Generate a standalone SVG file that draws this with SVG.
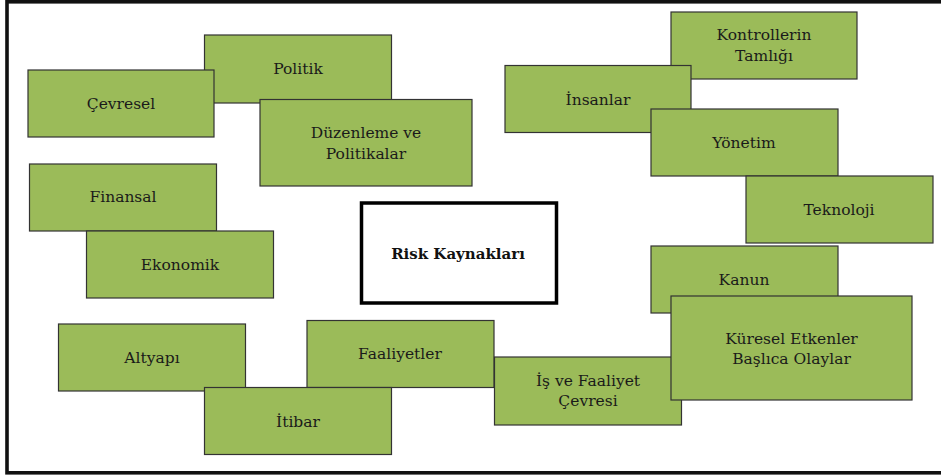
<svg xmlns="http://www.w3.org/2000/svg" width="941" height="475" viewBox="0 0 941 475">
<style>
.b{fill:#9BBB59;stroke:#333;stroke-width:1.2}
.t{font-family:"DejaVu Serif","Liberation Serif",serif;font-size:15.5px;fill:#1a1a1a;text-anchor:middle}
.r{font-family:"DejaVu Serif","Liberation Serif",serif;font-size:15px;font-weight:bold;fill:#111;text-anchor:middle}
</style>
<rect x="0" y="0" width="941" height="475" fill="#fff"/>
<rect id="frame" x="7" y="1.8" width="945" height="471" fill="none" stroke="#111" stroke-width="3.6"/>
<g id="connectors"></g>
<g id="politik"><rect class="b" x="204.5" y="35" width="187" height="68"/><text class="t" x="298" y="74">Politik</text></g>
<g id="cevresel"><rect class="b" x="28" y="70" width="186" height="67"/><text class="t" x="121" y="108.5">Çevresel</text></g>
<g id="duzenleme"><rect class="b" x="260" y="99.5" width="212" height="86.5"/><text class="t" x="366" y="138">Düzenleme ve</text><text class="t" x="366" y="158.5">Politikalar</text></g>
<g id="finansal"><rect class="b" x="29.5" y="164" width="187" height="67"/><text class="t" x="123" y="202">Finansal</text></g>
<g id="ekonomik"><rect class="b" x="86.5" y="231" width="187" height="67"/><text class="t" x="180" y="270">Ekonomik</text></g>
<g id="risk"><rect x="361.5" y="203" width="195" height="100" fill="#fff" stroke="#000" stroke-width="3.5"/><text class="r" x="458" y="258.5">Risk Kaynakları</text></g>
<g id="kontrollerin"><rect class="b" x="671" y="12" width="186" height="67"/><text class="t" x="764" y="40">Kontrollerin</text><text class="t" x="764" y="61">Tamlığı</text></g>
<g id="insanlar"><rect class="b" x="505" y="65.5" width="186" height="67"/><text class="t" x="598" y="105">İnsanlar</text></g>
<g id="yonetim"><rect class="b" x="651" y="109" width="187" height="67"/><text class="t" x="744" y="147.5">Yönetim</text></g>
<g id="teknoloji"><rect class="b" x="746" y="176" width="187" height="67"/><text class="t" x="839" y="214.5">Teknoloji</text></g>
<g id="kanun"><rect class="b" x="651" y="246" width="187" height="67"/><text class="t" x="744" y="284.5">Kanun</text></g>
<g id="altyapi"><rect class="b" x="58.5" y="324" width="187" height="67"/><text class="t" x="152" y="363">Altyapı</text></g>
<g id="faaliyetler"><rect class="b" x="307" y="320.5" width="187" height="67"/><text class="t" x="400" y="359">Faaliyetler</text></g>
<g id="itibar"><rect class="b" x="204.5" y="387.5" width="187" height="67"/><text class="t" x="298" y="427">İtibar</text></g>
<g id="is-faaliyet"><rect class="b" x="494.5" y="357" width="187" height="68"/><text class="t" x="588" y="386">İş ve Faaliyet</text><text class="t" x="588" y="406">Çevresi</text></g>
<g id="kuresel"><rect class="b" x="671" y="296" width="241" height="104"/><text class="t" x="791.5" y="343.5">Küresel Etkenler</text><text class="t" x="791.5" y="364">Başlıca Olaylar</text></g>
</svg>
